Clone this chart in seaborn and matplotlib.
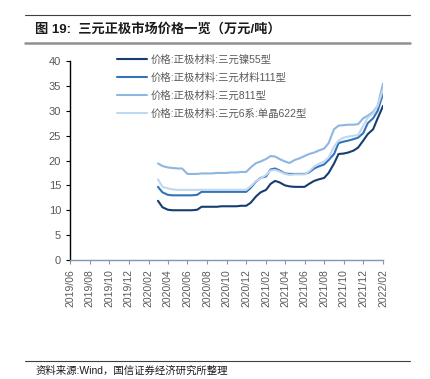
import pandas as pd
import matplotlib.pyplot as plt
import matplotlib.dates as mdates
import seaborn as sns

# semi-monthly observations, 2020-03-01 .. 2022-02-01
dates = pd.date_range("2020-03-01", "2022-02-01", freq="SMS")

ni55 = [11.9, 10.6, 10.1, 10.0, 10.0, 10.0, 10.0, 10.0, 10.1, 10.7,
        10.7, 10.7, 10.7, 10.8, 10.8, 10.8, 10.8, 10.9, 10.9, 11.5,
        12.8, 13.6, 14.1, 15.3, 15.9, 15.6, 15.0, 14.8, 14.7, 14.7,
        14.7, 15.3, 15.9, 16.2, 16.5, 17.5, 19.4, 21.3, 21.4, 21.6,
        22.0, 22.6, 24.0, 25.3, 26.3, 28.5, 31.0]
m111 = [14.7, 13.6, 13.1, 13.0, 13.0, 13.0, 13.0, 13.0, 13.1, 13.7,
        13.7, 13.7, 13.7, 13.7, 13.7, 13.7, 13.7, 13.7, 13.7, 14.5,
        15.8, 16.5, 16.8, 18.2, 18.4, 18.0, 17.4, 17.3, 17.3, 17.3,
        17.3, 17.6, 18.4, 18.8, 19.2, 20.1, 21.3, 23.5, 23.8, 24.0,
        24.3, 24.6, 25.5, 27.5, 28.5, 30.0, 33.5]
t811 = [19.4, 18.9, 18.6, 18.5, 18.4, 18.4, 17.3, 17.3, 17.3, 17.4,
        17.4, 17.4, 17.5, 17.5, 17.5, 17.6, 17.6, 17.7, 17.7, 18.6,
        19.5, 19.8, 20.3, 20.9, 20.8, 20.3, 19.8, 19.5, 20.1, 20.4,
        20.9, 21.3, 21.6, 22.0, 22.4, 23.5, 26.3, 27.0, 27.1, 27.2,
        27.2, 27.3, 28.5, 29.0, 29.8, 31.0, 35.5]
s622 = [16.2, 14.7, 14.4, 14.2, 14.1, 14.1, 14.1, 14.1, 14.1, 14.1,
        14.1, 14.1, 14.1, 14.1, 14.1, 14.1, 14.1, 14.1, 14.1, 14.8,
        15.9, 16.4, 17.1, 18.0, 18.1, 17.8, 17.3, 17.1, 17.2, 17.2,
        17.2, 17.8, 18.8, 19.3, 19.8, 20.6, 22.8, 24.0, 24.6, 24.8,
        25.0, 25.1, 27.0, 28.6, 29.5, 31.0, 34.3]

labels = ["价格:正极材料:三元镍55型", "价格:正极材料:三元材料111型",
          "价格:正极材料:三元811型", "价格:正极材料:三元6系:单晶622型"]
colors = ["#173D70", "#3373BA", "#8DB6E2", "#C0D8EF"]

frames = []
for name, vals in zip(labels, [ni55, m111, t811, s622]):
    frames.append(pd.DataFrame({"date": dates, "price": vals, "series": name}))
data = pd.concat(frames, ignore_index=True)

sns.set_theme(style="white")
plt.rcParams["font.family"] = ["Liberation Sans", "Noto Sans CJK SC"]

fig = plt.figure(figsize=(4.3, 3.79), dpi=100)
ax = fig.add_axes([0.163, 0.314, 0.728, 0.525])

sns.lineplot(data=data, x="date", y="price", hue="series", palette=colors,
             linewidth=1.5, ax=ax)

ax.set_xlim(pd.Timestamp("2019-06-01"), pd.Timestamp("2022-02-01"))
ax.set_ylim(0, 40)
ax.set_yticks(range(0, 41, 5))
ax.xaxis.set_major_locator(mdates.MonthLocator(bymonth=range(2, 13, 2)))
ax.xaxis.set_major_formatter(mdates.DateFormatter("%Y/%m"))
ax.tick_params(axis="x", rotation=90, labelsize=7.5, colors="#595959",
               length=3, width=0.8, direction="out", bottom=True)
ax.tick_params(axis="y", labelsize=8, colors="#595959", length=3,
               width=0.8, direction="out", left=True)
ax.tick_params(axis="x", color="#7F97B5")
ax.tick_params(axis="y", color="black")
ax.set_xlabel("")
ax.set_ylabel("")

for side in ["top", "right"]:
    ax.spines[side].set_visible(False)
ax.spines["left"].set_color("black")
ax.spines["left"].set_linewidth(1.0)
ax.spines["bottom"].set_color("#7F97B5")
ax.spines["bottom"].set_linewidth(1.0)

ax.legend(loc="upper left", bbox_to_anchor=(0.12, 1.08), frameon=False,
          fontsize=7.5, handlelength=2.9, handletextpad=0.35,
          labelspacing=0.75, labelcolor="#595959")

# header / footer rules and text
fig.add_artist(plt.Line2D([0.058, 0.953], [0.960, 0.960], color="#404040",
                          linewidth=0.8))
fig.add_artist(plt.Line2D([0.058, 0.953], [0.886, 0.886], color="#909090",
                          linewidth=1.8))
fig.add_artist(plt.Line2D([0.058, 0.953], [0.047, 0.047], color="#404040",
                          linewidth=0.8))
fig.text(0.082, 0.923, "图 19:  三元正极市场价格一览（万元/吨）", fontsize=9.5,
         fontweight="bold", va="center", ha="left", color="#1a1a1a")
fig.text(0.082, 0.023, "资料来源:Wind，国信证券经济研究所整理", fontsize=7.5,
         va="center", ha="left", color="#1a1a1a")

plt.savefig("out.png", dpi=100)
plt.close()
